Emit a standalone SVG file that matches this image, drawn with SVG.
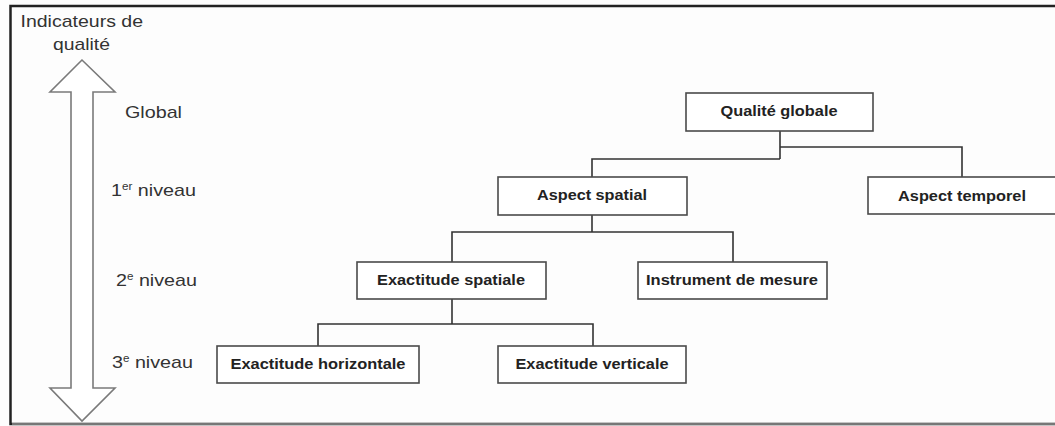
<svg xmlns="http://www.w3.org/2000/svg" width="1055" height="426" viewBox="0 0 1055 426">
  <style>
    .box { fill: #ffffff; stroke: #4a4a4a; stroke-width: 1.6; }
    .lbl { font-family: "Liberation Sans", Arial, sans-serif; font-weight: bold; font-size: 15.5px; fill: #222; text-anchor: middle; }
    .lvl { font-family: "Liberation Sans", Arial, sans-serif; font-size: 17px; fill: #333; }
    .sup { font-size: 10px; }
    .conn { fill: none; stroke: #333; stroke-width: 1.6; }
  </style>
  <rect x="0" y="0" width="1055" height="426" fill="#fdfdfd"/>
  <g id="frame">
    <polyline points="1055,6 10.5,6 10.5,424 1055,424" fill="none" stroke="#222" stroke-width="2.5"/>
    <line x1="12" y1="424" x2="1055" y2="424" stroke="#777" stroke-width="2"/>
  </g>
  <g id="axis">
    <polygon points="82,60 50,92 71,92 71,388 50,388 82,421 115,388 93,388 93,92 115,92" fill="#ffffff" stroke="#7a7a7a" stroke-width="1.6"/>
    <text class="lvl" x="20.5" y="27" textLength="122.5" lengthAdjust="spacingAndGlyphs">Indicateurs de</text>
    <text class="lvl" x="53" y="50" textLength="57" lengthAdjust="spacingAndGlyphs">qualité</text>
    <text class="lvl" x="125" y="118" textLength="57" lengthAdjust="spacingAndGlyphs">Global</text>
    <text class="lvl" x="111" y="196" textLength="85" lengthAdjust="spacingAndGlyphs">1<tspan class="sup" dy="-6">er</tspan><tspan dy="6"> niveau</tspan></text>
    <text class="lvl" x="116" y="285.5" textLength="81" lengthAdjust="spacingAndGlyphs">2<tspan class="sup" dy="-6">e</tspan><tspan dy="6"> niveau</tspan></text>
    <text class="lvl" x="112" y="368" textLength="81" lengthAdjust="spacingAndGlyphs">3<tspan class="sup" dy="-6">e</tspan><tspan dy="6"> niveau</tspan></text>
  </g>
  <g id="connectors">
    <polyline class="conn" points="780,131 780,159"/>
    <polyline class="conn" points="780,159 592,159 592,177"/>
    <polyline class="conn" points="780,147 962,147 962,177"/>
    <polyline class="conn" points="592,215 592,232"/>
    <polyline class="conn" points="452,262 452,232 733,232 733,262"/>
    <polyline class="conn" points="452,299 452,324"/>
    <polyline class="conn" points="318,346 318,324 593,324 593,346"/>
  </g>
  <g id="qualite-globale">
    <rect class="box" x="686" y="93" width="187" height="38"/>
    <text class="lbl" x="779" y="116" textLength="117" lengthAdjust="spacingAndGlyphs">Qualité globale</text>
  </g>
  <g id="aspect-spatial">
    <rect class="box" x="498" y="177" width="189" height="38"/>
    <text class="lbl" x="592" y="200" textLength="110" lengthAdjust="spacingAndGlyphs">Aspect spatial</text>
  </g>
  <g id="aspect-temporel">
    <rect class="box" x="868" y="177" width="190" height="37"/>
    <text class="lbl" x="962" y="200.5" textLength="128" lengthAdjust="spacingAndGlyphs">Aspect temporel</text>
  </g>
  <g id="exactitude-spatiale">
    <rect class="box" x="357" y="262" width="189" height="37"/>
    <text class="lbl" x="451" y="284.5" textLength="148" lengthAdjust="spacingAndGlyphs">Exactitude spatiale</text>
  </g>
  <g id="instrument-de-mesure">
    <rect class="box" x="638" y="262" width="189" height="37"/>
    <text class="lbl" x="732" y="284.5" textLength="172" lengthAdjust="spacingAndGlyphs">Instrument de mesure</text>
  </g>
  <g id="exactitude-horizontale">
    <rect class="box" x="217" y="346" width="202" height="37"/>
    <text class="lbl" x="318" y="369" textLength="175" lengthAdjust="spacingAndGlyphs">Exactitude horizontale</text>
  </g>
  <g id="exactitude-verticale">
    <rect class="box" x="498" y="346" width="188" height="37"/>
    <text class="lbl" x="592" y="369" textLength="153" lengthAdjust="spacingAndGlyphs">Exactitude verticale</text>
  </g>
</svg>
